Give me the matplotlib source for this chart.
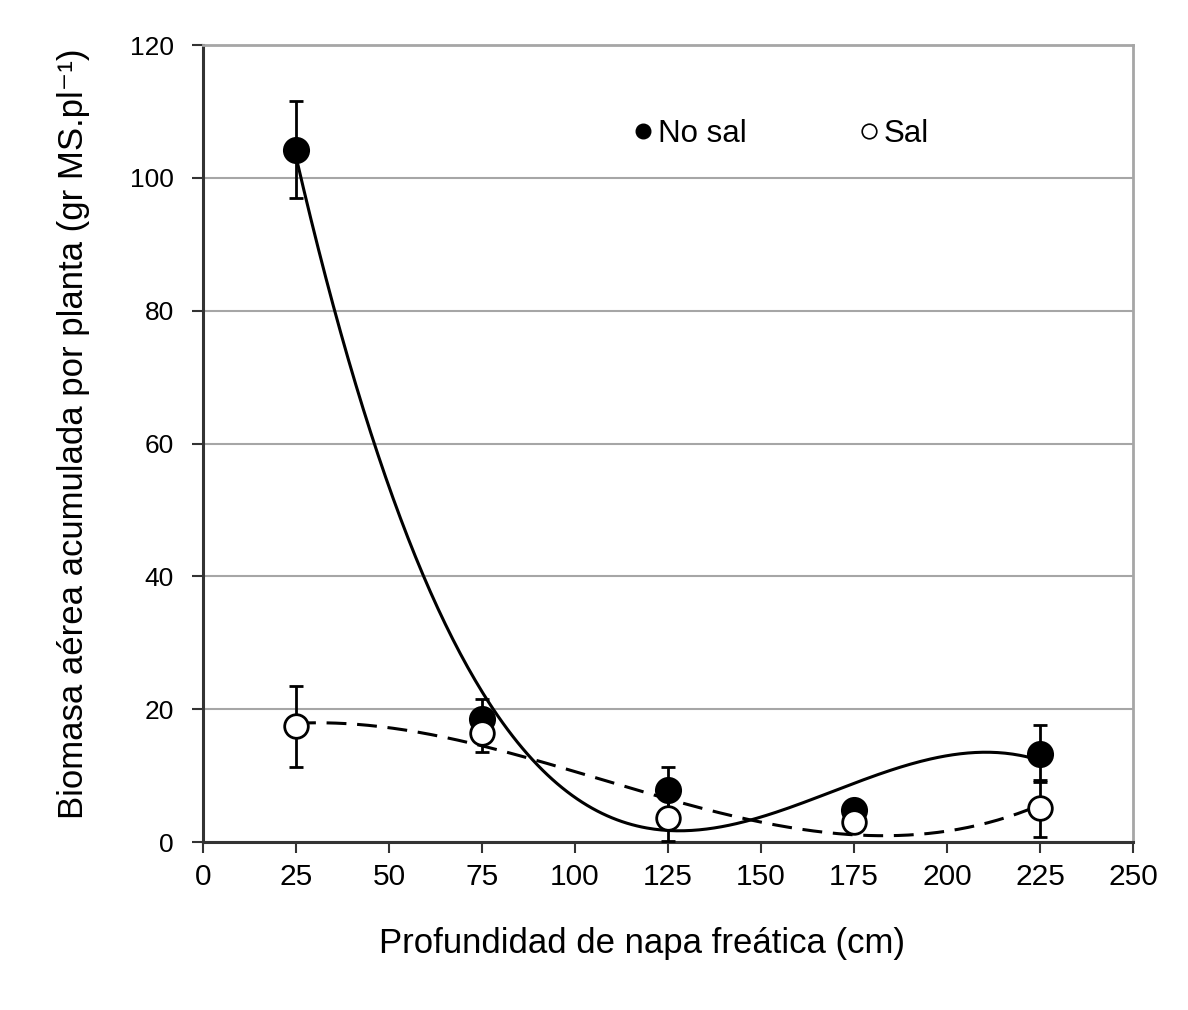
import numpy as np
import matplotlib
matplotlib.use("Agg")
import matplotlib.pyplot as plt
from matplotlib.lines import Line2D

plt.rcParams['font.family'] = ['Liberation Sans', 'DejaVu Sans']

# Water-table depth (cm)
depth = [25, 75, 125, 175, 225]

# Accumulated above-ground biomass per plant (g DM per plant)
no_sal = [104.2, 18.6, 7.8, 4.8, 13.3]
no_sal_err = [7.3, 2.9, 3.5, 0.8, 4.3]
sal = [17.4, 16.4, 3.6, 3.0, 5.1]
sal_err = [6.1, 2.8, 3.5, 0.8, 4.3]

x_ticks = [0, 25, 50, 75, 100, 125, 150, 175, 200, 225, 250]
y_ticks = [0, 20, 40, 60, 80, 100, 120]

fig = plt.figure(figsize=(11.88, 10.10), dpi=100)
ax = fig.add_axes([0.1709, 0.1663, 0.7828, 0.7891])

ax.set_xlim(0, 250)
ax.set_ylim(0, 120)
ax.set_xticks(x_ticks)
ax.set_yticks(y_ticks)
ax.yaxis.grid(True, color='#a6a6a6', linewidth=1.5)
ax.set_axisbelow(True)

for side in ('top', 'right'):
    ax.spines[side].set_color('#a6a6a6')
    ax.spines[side].set_linewidth(2.0)
for side in ('left', 'bottom'):
    ax.spines[side].set_color('#333333')
    ax.spines[side].set_linewidth(2.2)

ax.tick_params(axis='both', direction='out', length=8, width=1.5, color='#333333')
ax.tick_params(axis='x', labelsize=21.5, pad=7)
ax.tick_params(axis='y', labelsize=19, pad=13)

# Third-order polynomial trend lines
xs = np.linspace(depth[0], depth[-1], 300)
fit_no = np.polyfit(depth, no_sal, 3)
fit_sal = np.polyfit(depth, sal, 3)
ax.plot(xs, np.polyval(fit_no, xs), color='black', linewidth=2.2, zorder=3)
ax.plot(xs, np.polyval(fit_sal, xs), color='black', linewidth=2.2,
        linestyle=(0, (6.5, 3.5)), zorder=3)

ax.errorbar(depth, no_sal, yerr=no_sal_err, fmt='none', ecolor='black',
            elinewidth=2, capsize=4.7, capthick=2, zorder=4)
ax.errorbar(depth, sal, yerr=sal_err, fmt='none', ecolor='black',
            elinewidth=2, capsize=4.7, capthick=2, zorder=4)
ax.plot(depth, no_sal, 'o', markersize=18, markerfacecolor='black',
        markeredgecolor='black', markeredgewidth=1.5, zorder=5)
ax.plot(depth, sal, 'o', markersize=17, markerfacecolor='white',
        markeredgecolor='black', markeredgewidth=2, zorder=6)

handles = [
    Line2D([], [], marker='o', linestyle='none', markersize=10.5,
           markerfacecolor='black', markeredgecolor='black'),
    Line2D([], [], marker='o', linestyle='none', markersize=10.5,
           markerfacecolor='white', markeredgecolor='black', markeredgewidth=1.2),
]
ax.legend(handles, ['No sal', 'Sal'], loc='center', bbox_to_anchor=(0.62, 0.889),
          ncol=2, frameon=False, fontsize=22.5, handletextpad=0.08,
          columnspacing=3.5, handlelength=0.8)

ax.set_xlabel('Profundidad de napa freática (cm)', fontsize=25, labelpad=26)
ax.xaxis.label.set_x(0.472)
ax.set_ylabel('Biomasa aérea acumulada por planta (gr MS.pl\u207b\u00b9)',
              fontsize=25, labelpad=29)
ax.yaxis.label.set_y(0.5126)

fig.savefig('out.png', dpi=100, facecolor='white')
